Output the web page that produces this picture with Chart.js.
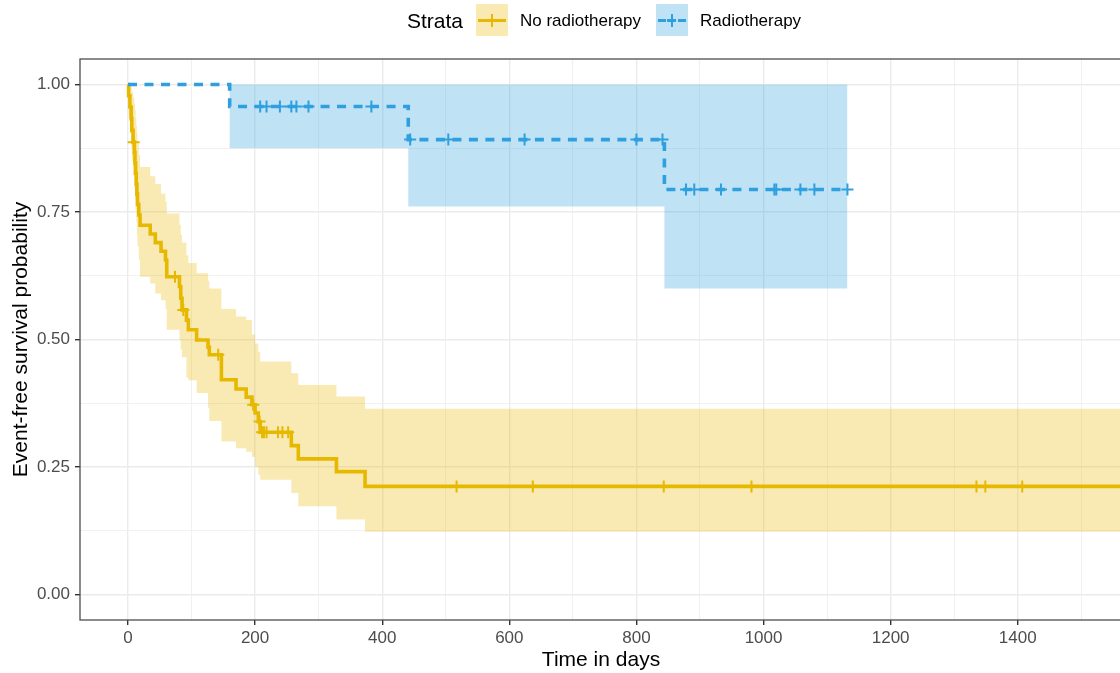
<!DOCTYPE html>
<html>
<head>
<meta charset="utf-8">
<script src="https://cdn.jsdelivr.net/npm/chart.js@4.4.1/dist/chart.umd.min.js"></script>
<style>
  html, body { margin: 0; padding: 0; background: #fff; overflow: hidden; }
  #wrap { position: relative; width: 1120px; height: 673px; overflow: hidden;
          font-family: "Liberation Sans", Arial, sans-serif; }
  #km { position: absolute; left: 0; top: 0; }
  .leg-text { position: absolute; top: 5px; height: 32px; line-height: 32px; color: #000; white-space: nowrap; }
  .key { position: absolute; top: 4px; width: 32px; height: 32px; }
  .key div { position: absolute; }
</style>
</head>
<body>
<div id="wrap">
  <canvas id="km" width="1130" height="673"></canvas>

  <span class="leg-text" style="left:407px;font-size:21px;">Strata</span>
  <div class="key" style="left:476px;background:rgba(231,184,0,0.3);">
    <div style="left:2px;top:15px;width:28px;height:3px;background:#E7B800;"></div>
    <div style="left:15px;top:10px;width:2px;height:13px;background:#E7B800;"></div>
  </div>
  <span class="leg-text" style="left:520px;font-size:17px;">No radiotherapy</span>
  <div class="key" style="left:656px;background:rgba(46,159,223,0.3);">
    <div style="left:2px;top:15px;width:8px;height:3px;background:#2E9FDF;"></div>
    <div style="left:11px;top:15px;width:9px;height:3px;background:#2E9FDF;"></div>
    <div style="left:15px;top:10px;width:2px;height:13px;background:#2E9FDF;"></div>
    <div style="left:22px;top:15px;width:8px;height:3px;background:#2E9FDF;"></div>
  </div>
  <span class="leg-text" style="left:700px;font-size:17px;">Radiotherapy</span>
</div>

<script>
// No radiotherapy: event times, survival and confidence band
const noRadTimes = [0, 1, 3, 5, 6, 8, 10, 11, 12, 13, 14, 15, 17, 19, 35, 43, 52, 59, 61, 81, 83, 85, 92, 95,
                    108, 126, 128, 147, 170, 186, 195, 200, 205, 208, 257, 268, 328, 373, 1600];
const noRadSurv  = [1, 0.978, 0.956, 0.933, 0.910, 0.887, 0.867, 0.846, 0.826, 0.805, 0.785, 0.765, 0.744, 0.724,
                    0.707, 0.690, 0.673, 0.656, 0.623, 0.604, 0.581, 0.558, 0.538, 0.519,
                    0.499, 0.485, 0.470, 0.421, 0.403, 0.387, 0.372, 0.356, 0.339, 0.318, 0.292, 0.266, 0.241, 0.212, 0.212];
const noRadUpper = [1, 1, 1, 0.995, 0.985, 0.975, 0.962, 0.950, 0.935, 0.920, 0.905, 0.885, 0.862, 0.838,
                    0.820, 0.805, 0.786, 0.770, 0.747, 0.725, 0.705, 0.690, 0.665, 0.650,
                    0.630, 0.615, 0.600, 0.560, 0.545, 0.538, 0.510, 0.492, 0.475, 0.457, 0.434, 0.411, 0.388, 0.364, 0.364];
const noRadLower = [1, 0.935, 0.905, 0.878, 0.850, 0.822, 0.798, 0.775, 0.752, 0.730, 0.705, 0.683, 0.655, 0.623,
                    0.610, 0.590, 0.577, 0.560, 0.519, 0.499, 0.480, 0.465, 0.425, 0.420,
                    0.395, 0.366, 0.340, 0.300, 0.287, 0.280, 0.270, 0.250, 0.235, 0.225, 0.199, 0.173, 0.147, 0.123, 0.123];
const noRadCensor = [9, 74, 87, 142, 197, 207, 211, 214, 218, 236, 243, 252, 517, 637, 843, 981, 1335, 1349, 1407];

// Radiotherapy
const radTimes = [0, 160, 441, 844, 1132];
const radSurv  = [1, 0.957, 0.892, 0.794, 0.794];
const radUpper = [1, 1, 1, 1, 1];
const radLower = [1, 0.875, 0.761, 0.600, 0.600];
const radCensor = [208, 218, 239, 257, 265, 284, 383, 444, 504, 624, 800, 841, 878, 891, 933, 1017, 1020, 1058, 1080, 1132];

// axis breaks
const xMajorTicks = [0, 200, 400, 600, 800, 1000, 1200, 1400];
const xMinorTicks = [100, 300, 500, 700, 900, 1100, 1300, 1500];
const yMajorTicks = [0, 0.25, 0.5, 0.75, 1];
const yMinorTicks = [0.125, 0.375, 0.625, 0.875];
const yTickLabels = ['0.00', '0.25', '0.50', '0.75', '1.00'];

const YELLOW = '#E7B800';
const BLUE = '#2E9FDF';

const pts = (xs, ys) => xs.map((x, i) => ({ x: x, y: ys[i] }));

// survival value at time t (step function)
function survAt(times, surv, t) {
  let s = surv[0];
  for (let i = 0; i < times.length; i++) {
    if (times[i] <= t) s = surv[i];
  }
  return s;
}
const censorPts = (cens, times, surv) => cens.map(t => ({ x: t, y: survAt(times, surv, t) }));

const bandStyle = { borderWidth: 0, pointRadius: 0, stepped: true, tension: 0 };

const panelBorder = {
  id: 'panelBorder',
  afterDatasetsDraw(chart) {
    const { ctx, chartArea: a } = chart;
    ctx.save();
    ctx.strokeStyle = '#4D4D4D';
    ctx.lineWidth = 1.3;
    ctx.strokeRect(a.left, a.top, a.right - a.left, a.bottom - a.top);
    ctx.restore();
  }
};

const isMajor = (list, v) => list.some(m => Math.abs(m - v) < 1e-9);

new Chart(document.getElementById('km'), {
  type: 'line',
  data: {
    datasets: [
      { ...bandStyle, label: 'noRadUpper', data: pts(noRadTimes, noRadUpper), fill: 1,
        backgroundColor: 'rgba(231,184,0,0.3)', order: 10 },
      { ...bandStyle, label: 'noRadLower', data: pts(noRadTimes, noRadLower), fill: false, order: 10 },
      { ...bandStyle, label: 'radUpper', data: pts(radTimes, radUpper), fill: 3,
        backgroundColor: 'rgba(46,159,223,0.3)', order: 9 },
      { ...bandStyle, label: 'radLower', data: pts(radTimes, radLower), fill: false, order: 9 },
      { label: 'No radiotherapy', data: pts(noRadTimes, noRadSurv), stepped: true,
        borderColor: YELLOW, borderWidth: 3.6, pointRadius: 0, fill: false, order: 5 },
      { label: 'Radiotherapy', data: pts(radTimes, radSurv), stepped: true,
        borderColor: BLUE, borderWidth: 3.6, borderDash: [9, 7.5], borderCapStyle: 'butt',
        pointRadius: 0, fill: false, order: 4 },
      { label: 'noRadCensor', data: censorPts(noRadCensor, noRadTimes, noRadSurv), showLine: false,
        pointStyle: 'cross', pointRadius: 6, pointBorderWidth: 2, pointBorderColor: YELLOW, order: 2 },
      { label: 'radCensor', data: censorPts(radCensor, radTimes, radSurv), showLine: false,
        pointStyle: 'cross', pointRadius: 6, pointBorderWidth: 2, pointBorderColor: BLUE, order: 1 }
    ]
  },
  options: {
    responsive: false,
    animation: false,
    devicePixelRatio: 1,
    layout: { padding: { top: 59, left: 0, right: 0, bottom: 0 } },
    plugins: {
      legend: { display: false },
      tooltip: { enabled: false }
    },
    scales: {
      x: {
        type: 'linear',
        min: -75.5,
        max: 1564,
        afterBuildTicks: s => {
          s.ticks = [...xMajorTicks, ...xMinorTicks].sort((a, b) => a - b).map(v => ({ value: v }));
        },
        afterFit: s => { s.height = 53; },
        border: { display: false },
        grid: {
          color: c => isMajor(xMajorTicks, c.tick.value) ? '#EBEBEB' : '#EFEFEF',
          lineWidth: c => isMajor(xMajorTicks, c.tick.value) ? 1.4 : 0.9,
          tickColor: c => isMajor(xMajorTicks, c.tick.value) ? '#333333' : 'rgba(0,0,0,0)',
          tickWidth: 1.4,
          tickLength: 5
        },
        ticks: {
          autoSkip: false,
          maxRotation: 0,
          padding: 3,
          color: '#4D4D4D',
          font: { family: 'Liberation Sans', size: 17 },
          callback: v => isMajor(xMajorTicks, v) ? String(v) : ''
        },
        title: {
          display: true,
          text: 'Time in days',
          color: '#000',
          font: { family: 'Liberation Sans', size: 21 },
          padding: { top: 0, bottom: 0 }
        }
      },
      y: {
        type: 'linear',
        min: -0.05,
        max: 1.05,
        afterBuildTicks: s => {
          s.ticks = [...yMajorTicks, ...yMinorTicks].sort((a, b) => a - b).map(v => ({ value: v }));
        },
        afterFit: s => { s.width = 80; },
        border: { display: false },
        grid: {
          color: c => isMajor(yMajorTicks, c.tick.value) ? '#EBEBEB' : '#EFEFEF',
          lineWidth: c => isMajor(yMajorTicks, c.tick.value) ? 1.4 : 0.9,
          tickColor: c => isMajor(yMajorTicks, c.tick.value) ? '#333333' : 'rgba(0,0,0,0)',
          tickWidth: 1.4,
          tickLength: 5
        },
        ticks: {
          autoSkip: false,
          padding: 5,
          color: '#4D4D4D',
          font: { family: 'Liberation Sans', size: 17 },
          callback: v => {
            const i = yMajorTicks.findIndex(m => Math.abs(m - v) < 1e-9);
            return i >= 0 ? yTickLabels[i] : '';
          }
        },
        title: {
          display: true,
          text: 'Event-free survival probability',
          color: '#000',
          font: { family: 'Liberation Sans', size: 21 },
          padding: { top: 9, bottom: 0 }
        }
      }
    }
  },
  plugins: [panelBorder]
});
</script>
</body>
</html>
